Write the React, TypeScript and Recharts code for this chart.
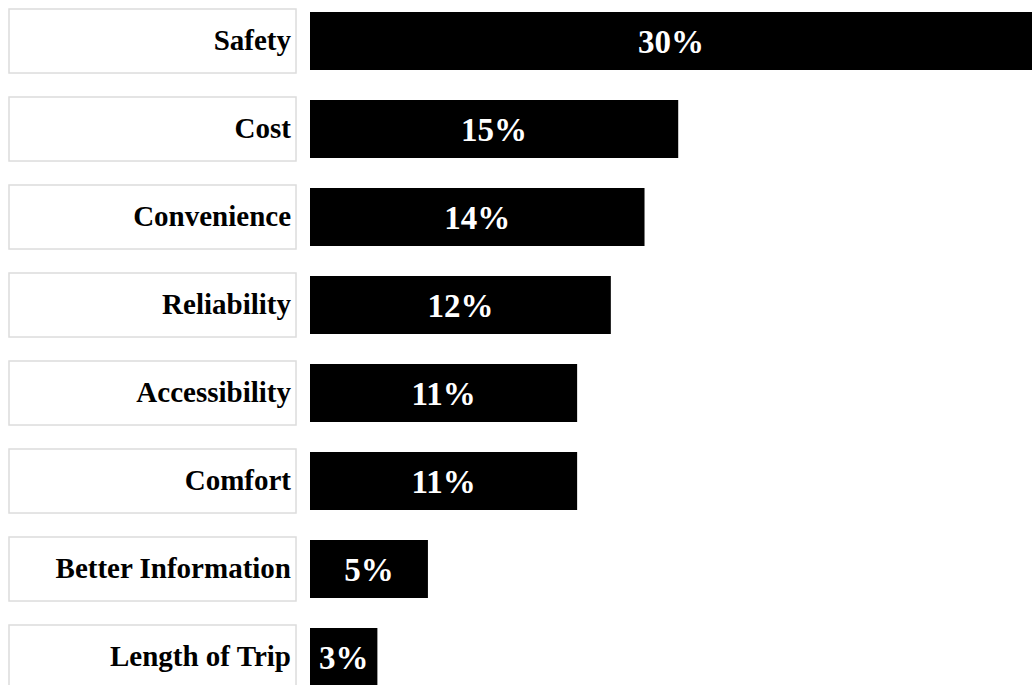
import { BarChart, Bar, XAxis, YAxis, LabelList } from 'recharts'

// Categories, top to bottom
const categories = [
  'Safety',
  'Cost',
  'Convenience',
  'Reliability',
  'Accessibility',
  'Comfort',
  'Better Information',
  'Length of Trip',
]

// Bar lengths (percent)
const shares = [30, 15.3, 13.9, 12.5, 11.1, 11.1, 4.9, 2.8]

// Printed labels
const shareLabels = ['30%', '15%', '14%', '12%', '11%', '11%', '5%', '3%']

const data = categories.map((name, i) => ({
  name,
  value: shares[i],
  label: shareLabels[i],
}))

const FONT = '"Liberation Serif", "Times New Roman", serif'

const CategoryTick = ({ y, payload }: { y?: number; payload?: { value: string } }) => {
  const cy = y ?? 0
  return (
    <g>
      <rect x={9} y={cy - 32} width={287} height={64} fill="#fff" stroke="#dcdcdc" strokeWidth={1.5} />
      <text
        x={291}
        y={cy}
        dy={9}
        textAnchor="end"
        fontFamily={FONT}
        fontWeight="bold"
        fontSize={29}
        fill="#000"
      >
        {payload?.value}
      </text>
    </g>
  )
}

export default function App() {
  return (
    <div style={{ position: 'fixed', top: 0, left: 0, width: 1032, height: 685, overflow: 'hidden', background: '#fff' }}>
      <div style={{ position: 'absolute', top: -3, left: 0 }}>
        <BarChart
          width={1032}
          height={704}
          data={data}
          layout="vertical"
          margin={{ top: 0, right: 0, bottom: 0, left: 0 }}
          barSize={58}
        >
          <XAxis type="number" domain={[0, 30]} hide />
          <YAxis
            type="category"
            dataKey="name"
            width={310}
            axisLine={false}
            tickLine={false}
            tick={<CategoryTick />}
            interval={0}
          />
          <Bar dataKey="value" fill="#000" isAnimationActive={false}>
            <LabelList
              dataKey="label"
              position="center"
              fill="#fff"
              fontFamily={FONT}
              fontWeight="bold"
              fontSize={33}
            />
          </Bar>
        </BarChart>
      </div>
    </div>
  )
}
